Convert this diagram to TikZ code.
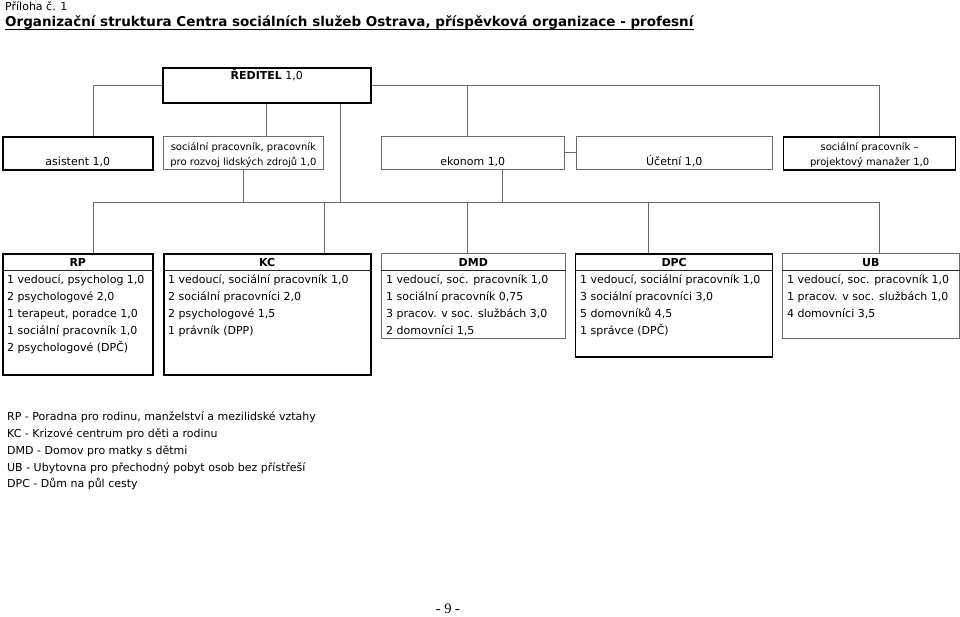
\documentclass[tikz,border=0pt]{standalone}
\usepackage{fontspec}
\setmainfont{DejaVu Sans}
\newfontfamily\pagefont{Liberation Serif}
\usetikzlibrary{calc}
\definecolor{linegray}{RGB}{105,105,105}

\begin{document}
\begin{tikzpicture}[x=1pt,y=-1pt,
  every node/.style={font=\fontsize{11}{13}\selectfont,inner sep=0pt},
  box/.style 2 args={anchor=north west,minimum width=#1,minimum height=#2},
  heavy/.style={draw=black,line width=1.6pt},
  light/.style={draw=linegray,line width=.8pt},
  conn/.style={draw=linegray,line width=.8pt},
  small/.style={font=\fontsize{10}{15}\selectfont,align=center}]
\path[fill=white] (0,0) rectangle (960,617);
% heading
\node[anchor=base west] (priloha) at (5,11) {Příloha č. 1};
\node[anchor=base west,font=\bfseries\fontsize{13.5}{16}\selectfont] (nadpis) at (5,27)
  {Organizační struktura Centra sociálních služeb Ostrava, příspěvková organizace - profesní};
\draw[line width=1.3pt] ($(nadpis.base west)+(0,2.5)$) -- ($(nadpis.base east)+(0,2.5)$);
% director and staff
\node[heavy,box={208}{35}] (dir) at (162,67) {};
\node[anchor=base] (dir-t) at ($(dir.north)+(0,13)$) {\textbf{ŘEDITEL} 1,0};
\node[heavy,box={150}{33}] (asist) at (2,136) {};
\node[light,box={160}{33}] (soc) at (163,136) {};
\node[light,box={183}{33}] (ekon) at (381,136) {};
\node[light,box={196}{33}] (ucet) at (576,136) {};
\node[heavy,box={172}{33}] (proj) at (783,136) {};
\node[anchor=base] (asist-t) at ($(asist.north)+(0,30)$) {asistent 1,0};
\node[small] (soc-t) at ($(soc.north)+(0,19.5)$) {sociální pracovník, pracovník\\pro rozvoj lidských zdrojů 1,0};
\node[anchor=base] (ekon-t) at ($(ekon.north)+(0,30)$) {ekonom 1,0};
\node[anchor=base] (ucet-t) at ($(ucet.north)+(0,30)$) {Účetní 1,0};
\node[small] (proj-t) at ($(proj.north)+(0,19.5)$) {sociální pracovník –\\projektový manažer 1,0};
% facilities
\node[heavy,box={150}{121}] (rp) at (2,253) {};
\node[heavy,box={207}{121}] (kc) at (163,253) {};
\node[light,box={184}{85}] (dmd) at (381,253) {};
\node[heavy,box={197}{103}] (dpc) at (575,253) {};
\node[light,box={177}{85}] (ub) at (782,253) {};
\foreach \n/\t in {rp/RP,kc/KC,dmd/DMD,dpc/DPC,ub/UB}{
  \draw[black!85,line width=.8pt] ($(\n.north west)+(0,17)$) -- ($(\n.north east)+(0,17)$);
  \node[anchor=base,font=\bfseries\fontsize{11}{13}\selectfont] (\n-h) at ($(\n.north)+(0,14)$) {\t};
}
\foreach \t [count=\i] in {{1 vedoucí, psycholog 1,0},{2 psychologové 2,0},{1 terapeut, poradce 1,0},{1 sociální pracovník 1,0},{2 psychologové (DPČ)}}
  \node[anchor=base west] (rp-\i) at ($(rp.north west)+(5,14+17*\i)$) {\t};
\foreach \t [count=\i] in {{1 vedoucí, sociální pracovník 1,0},{2 sociální pracovníci 2,0},{2 psychologové 1,5},{1 právník (DPP)}}
  \node[anchor=base west] (kc-\i) at ($(kc.north west)+(5,14+17*\i)$) {\t};
\foreach \t [count=\i] in {{1 vedoucí, soc. pracovník 1,0},{1 sociální pracovník 0,75},{3 pracov. v soc. službách 3,0},{2 domovníci 1,5}}
  \node[anchor=base west] (dmd-\i) at ($(dmd.north west)+(5,14+17*\i)$) {\t};
\foreach \t [count=\i] in {{1 vedoucí, sociální pracovník 1,0},{3 sociální pracovníci 3,0},{5 domovníků 4,5},{1 správce (DPČ)}}
  \node[anchor=base west] (dpc-\i) at ($(dpc.north west)+(5,14+17*\i)$) {\t};
\foreach \t [count=\i] in {{1 vedoucí, soc. pracovník 1,0},{1 pracov. v soc. službách 1,0},{4 domovníci 3,5}}
  \node[anchor=base west] (ub-\i) at ($(ub.north west)+(5,14+17*\i)$) {\t};
% connectors
\coordinate (bus) at (0,202);
\draw[conn] (dir.west) -| ($(asist.north)+(16,0)$);
\draw[conn] (dir.east) -| ($(proj.north)+(10,0)$);
\draw[conn] ($(ekon.north)+(-5,0)$) |- (dir.east);
\draw[conn] (dir.south) -- (dir.south |- soc.north);
\draw[conn] (ekon.east) -- (ucet.west);
\draw[conn] ($(rp.north)+(16,0)$) |- ($(ub.north |- bus)+(8.5,0)$) -- ($(ub.north)+(8.5,0)$);
\foreach \n/\dx in {kc/57.5,dmd/-6,dpc/-25.5}
  \draw[conn] ($(\n.north)+(\dx,0)$) -- ($(\n.north |- bus)+(\dx,0)$);
\draw[conn] ($(dir.south)+(74,0)$) -- ($(dir.south |- bus)+(74,0)$);
\draw[conn] (soc.south) -- (soc.south |- bus);
\draw[conn] ($(ekon.south)+(30,0)$) -- ($(ekon.south |- bus)+(30,0)$);
% legend
\foreach \t [count=\i] in {{RP - Poradna pro rodinu, manželství a mezilidské vztahy},{KC - Krizové centrum pro děti a rodinu},{DMD - Domov pro matky s dětmi},{UB - Ubytovna pro přechodný pobyt osob bez přístřeší},{DPC - Dům na půl cesty}}
  \node[anchor=base west] (leg-\i) at ($(7,404.3)+(0,16.7*\i)$) {\t};
\node[anchor=base,font=\pagefont\fontsize{14.5}{16}\selectfont] (strana) at (448,614) {- 9 -};
\end{tikzpicture}
\end{document}
